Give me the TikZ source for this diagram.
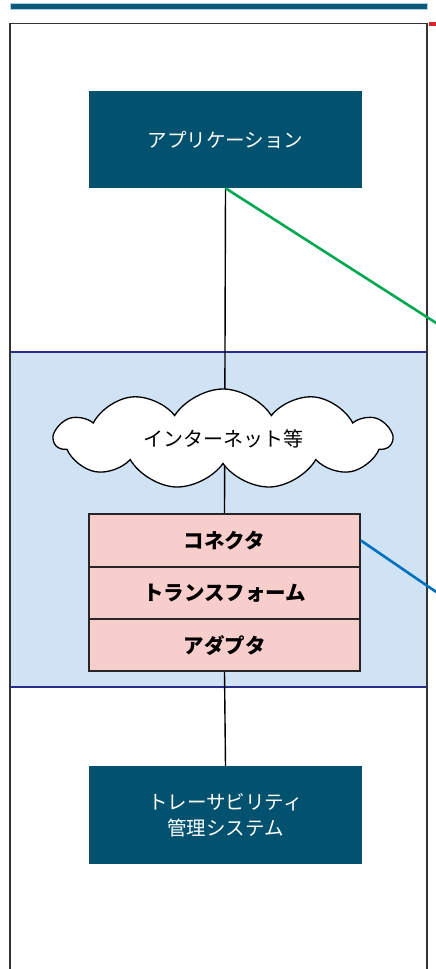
\documentclass[tikz,border=0pt]{standalone}
\usepackage{fontspec}
\setmainfont{Noto Sans CJK JP}
\usetikzlibrary{shapes.symbols}
\pgfdeclarelayer{bgA}
\pgfdeclarelayer{bgB}
\pgfsetlayers{bgA,bgB,main}
\definecolor{teal}{RGB}{2,81,110}
\definecolor{barcol}{RGB}{12,90,122}
\definecolor{regionfill}{RGB}{208,227,244}
\definecolor{regionline}{RGB}{40,44,140}
\definecolor{pinkfill}{RGB}{248,206,204}
\definecolor{greenline}{RGB}{0,168,80}
\definecolor{blueline}{RGB}{0,112,192}
\definecolor{markred}{RGB}{217,38,44}
\tikzset{
  darkbox/.style={rectangle, fill=teal, text=white, minimum width=273pt, minimum height=97pt, inner sep=0pt, align=center, font=\fontsize{19.5}{26}\selectfont},
  layerbox/.style={rectangle, draw=black!85, line width=1.8pt, fill=pinkfill, minimum width=271pt, minimum height=52.3pt, inner sep=0pt, font=\fontsize{20.5}{22}\selectfont\bfseries},
  conn/.style={draw=black, line width=1.4pt},
}
\begin{document}
\begin{tikzpicture}[x=1pt,y=-1pt]
\useasboundingbox (0,0) rectangle (436,969);
% top bar
\fill[barcol, draw={rgb,255:red,170;green,210;blue,230}, line width=0.6pt] (10,3) rectangle (427,9);
% red mark
\fill[markred] (429,22) rectangle (436,26);
% outer frame
\draw[black!80, line width=1.8pt] (10,985) -- (10,23.5) -- (427,23.5) -- (427,985);
% nodes
\node[darkbox] (app) at (225.5,139.5) {アプリケーション};
\node[cloud, cloud puffs=11, cloud puff arc=115, aspect=3.4, draw=black, line width=1.3pt, fill=white,
      minimum width=337pt, minimum height=100pt, inner sep=0pt, font=\fontsize{20}{22}\selectfont] (net) at (223,439) {インターネット等};
\node[layerbox] (conn1) at (224.5,540.5) {コネクタ};
\node[layerbox] (conn2) at (224.5,592.8) {トランスフォーム};
\node[layerbox] (conn3) at (224.5,645.1) {アダプタ};
\node[darkbox, minimum height=98pt] (trace) at (225.5,815) {トレーサビリティ\\管理システム};
\coordinate (gEnd) at (437,323.5);
\coordinate (bEnd) at (437,592.5);
\begin{pgfonlayer}{bgA}
\fill[regionfill] (10,352) rectangle (427,687);
\end{pgfonlayer}
\begin{pgfonlayer}{bgB}
\draw[regionline, line width=2pt] (10,352) rectangle (427,687);
\draw[conn] (app.south) -- (conn1.north);
\draw[conn] (conn3.south) -- (trace.north);
\end{pgfonlayer}
\draw[greenline, line width=2.6pt] (app.south) -- (gEnd);
\draw[blueline, line width=2.6pt] (conn1.east) -- (bEnd);
\end{tikzpicture}
\end{document}
